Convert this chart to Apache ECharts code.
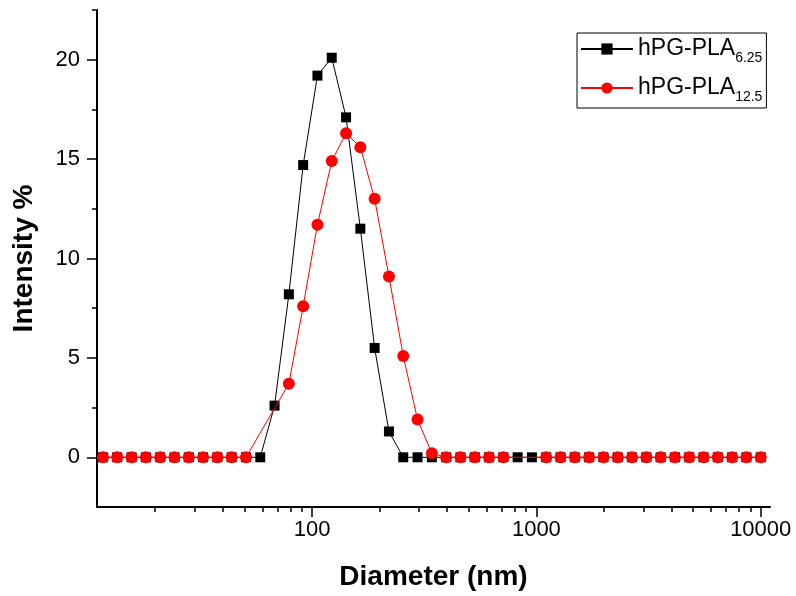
<!DOCTYPE html>
<html>
<head>
<meta charset="utf-8">
<script src="https://cdn.jsdelivr.net/npm/echarts@6/dist/echarts.min.js"></script>
<style>
html,body{margin:0;padding:0;background:#fff;}
#chart{width:796px;height:596px;}
</style>
</head>
<body>
<div id="chart"></div>
<script>
// Diameter bins (nm)
var diameters = [11.7, 13.54, 15.69, 18.17, 21.04, 24.36, 28.21, 32.67, 37.84, 43.82, 50.75, 58.77, 68.06, 78.82, 91.28, 105.7, 122.4, 141.8, 164.2, 190.1, 220.2, 255.0, 295.3, 342.0, 396.1, 458.7, 531.2, 615.1, 712.4, 825.0, 955.4, 1106, 1281, 1484, 1718, 1990, 2305, 2669, 3091, 3580, 4145, 4801, 5560, 6439, 7456, 8635, 10000];
// Intensity % for hPG-PLA 6.25
var intensityA = [0, 0, 0, 0, 0, 0, 0, 0, 0, 0, 0, 0, 2.6, 8.2, 14.7, 19.2, 20.1, 17.1, 11.5, 5.5, 1.3, 0, 0, 0, 0, 0, 0, 0, 0, 0, 0, 0, 0, 0, 0, 0, 0, 0, 0, 0, 0, 0, 0, 0, 0, 0, 0];
// Intensity % for hPG-PLA 12.5 (null = no point)
var intensityB = [0, 0, 0, 0, 0, 0, 0, 0, 0, 0, 0, null, null, 3.7, 7.6, 11.7, 14.9, 16.3, 15.6, 13.0, 9.1, 5.1, 1.9, 0.2, 0, 0, 0, 0, 0, null, null, 0, 0, 0, 0, 0, 0, 0, 0, 0, 0, 0, 0, 0, 0, 0, 0];
var seriesNames = ['hPG-PLA_6.25', 'hPG-PLA_12.5'];
var xMajorTicks = [100, 1000, 10000];
var xMinorTicks = [20, 30, 40, 50, 60, 70, 80, 90, 200, 300, 400, 500, 600, 700, 800, 900, 2000, 3000, 4000, 5000, 6000, 7000, 8000, 9000];
var yMajorTicks = [0, 5, 10, 15, 20];
var yMinorTicks = [2.5, 7.5, 12.5, 17.5, 22.5];

function pairs(xs, ys) {
  return xs.map(function (x, i) { return [x, ys[i]]; });
}

var FONT = "'Liberation Sans', Arial, sans-serif";
var chart = echarts.init(document.getElementById('chart'), null, {renderer: 'canvas'});
var axisLineStyle = {color: '#000', width: 2};

chart.setOption({
  animation: false,
  backgroundColor: '#fff',
  grid: {left: 97, top: 10, width: 673, height: 498, containLabel: false},
  legend: {
    left: 577, top: 33,
    orient: 'vertical',
    itemWidth: 52, itemHeight: 14, itemGap: 7,
    padding: [0, 4, 4, 3],
    borderColor: '#000', borderWidth: 1,
    backgroundColor: '#fff',
    data: seriesNames,
    formatter: function (name) {
      var p = name.split('_');
      return '{m|' + p[0] + '}{s|' + p[1] + '}';
    },
    textStyle: {
      fontFamily: FONT, color: '#000',
      rich: {
        m: {fontFamily: FONT, fontSize: 23, lineHeight: 24, verticalAlign: 'middle', color: '#000'},
        s: {fontFamily: FONT, fontSize: 14, lineHeight: 15, padding: [18, 0, 0, 0], verticalAlign: 'middle', color: '#000'}
      }
    }
  },
  xAxis: [{
    type: 'log', logBase: 10, min: 11, max: 11000,
    position: 'bottom',
    name: 'Diameter (nm)', nameLocation: 'middle', nameGap: 56,
    nameTextStyle: {fontFamily: FONT, fontSize: 28, fontWeight: 'bold', color: '#000'},
    axisLine: {show: true, onZero: false, lineStyle: axisLineStyle},
    axisTick: {show: true, inside: false, length: 10, customValues: xMajorTicks, lineStyle: {color: '#000', width: 1.5}},
    axisLabel: {show: true, customValues: xMajorTicks, margin: 12, fontFamily: FONT, fontSize: 22, color: '#000',
      formatter: function (v) { return String(Math.round(v)); }},
    splitLine: {show: false}, minorTick: {show: false}
  }, {
    type: 'log', logBase: 10, min: 11, max: 11000,
    position: 'bottom',
    axisLine: {show: false, onZero: false},
    axisTick: {show: true, inside: false, length: 5, customValues: xMinorTicks, lineStyle: {color: '#000', width: 1.5}},
    axisLabel: {show: false},
    splitLine: {show: false}
  }],
  yAxis: [{
    type: 'value', min: -2.5, max: 22.5, interval: 2.5,
    position: 'left',
    name: 'Intensity %', nameLocation: 'middle', nameGap: 59,
    nameTextStyle: {fontFamily: FONT, fontSize: 28, fontWeight: 'bold', color: '#000'},
    axisLine: {show: true, onZero: false, lineStyle: axisLineStyle},
    axisTick: {show: true, inside: false, length: 10, customValues: yMajorTicks, lineStyle: {color: '#000', width: 1.5}},
    axisLabel: {show: true, customValues: yMajorTicks, margin: 17, fontFamily: FONT, fontSize: 22, color: '#000'},
    splitLine: {show: false}
  }, {
    type: 'value', min: -2.5, max: 22.5, interval: 2.5,
    position: 'left',
    axisLine: {show: false, onZero: false},
    axisTick: {show: true, inside: false, length: 5, customValues: yMinorTicks, lineStyle: {color: '#000', width: 1.5}},
    axisLabel: {show: false},
    splitLine: {show: false}
  }],
  series: [{
    name: seriesNames[0], type: 'line',
    xAxisIndex: 0, yAxisIndex: 0,
    data: pairs(diameters, intensityA),
    symbol: 'rect', symbolSize: 10,
    itemStyle: {color: '#000'},
    lineStyle: {color: '#000', width: 1},
    connectNulls: true, z: 2
  }, {
    name: seriesNames[1], type: 'line',
    xAxisIndex: 0, yAxisIndex: 0,
    data: pairs(diameters, intensityB),
    symbol: 'circle', symbolSize: 12,
    itemStyle: {color: '#ff0000'},
    lineStyle: {color: '#ff0000', width: 1},
    connectNulls: true, z: 3
  }]
});
</script>
</body>
</html>
